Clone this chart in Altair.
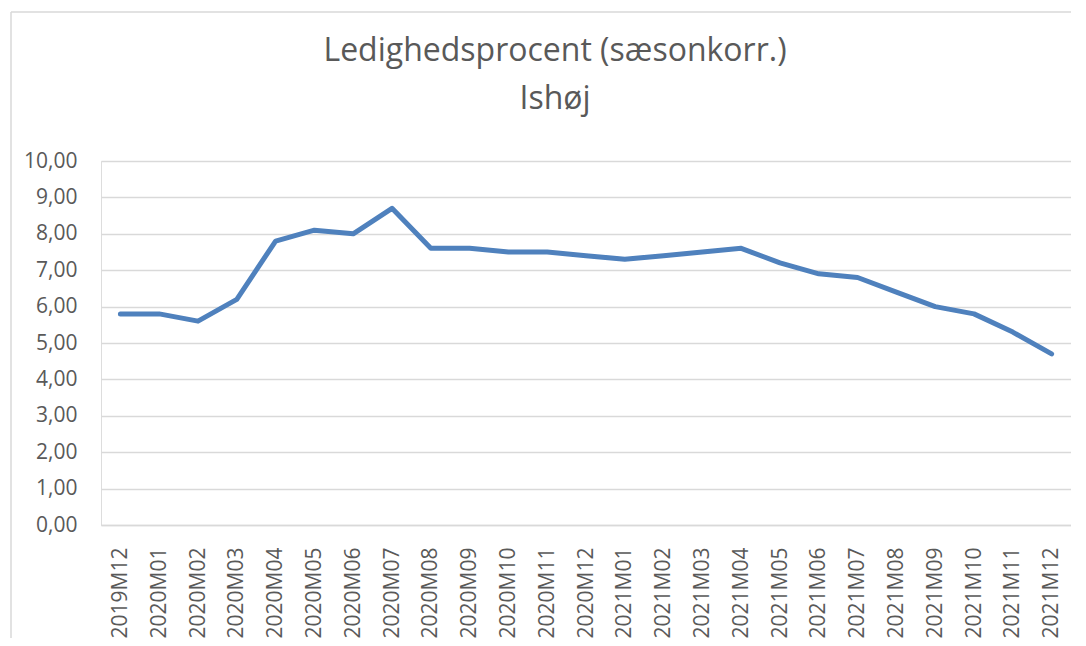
import altair as alt
import pandas as pd

months = ["2019M12", "2020M01", "2020M02", "2020M03", "2020M04", "2020M05",
          "2020M06", "2020M07", "2020M08", "2020M09", "2020M10", "2020M11",
          "2020M12", "2021M01", "2021M02", "2021M03", "2021M04", "2021M05",
          "2021M06", "2021M07", "2021M08", "2021M09", "2021M10", "2021M11",
          "2021M12"]
values = [5.8, 5.8, 5.6, 6.2, 7.8, 8.1, 8.0, 8.7, 7.6, 7.6, 7.5, 7.5,
          7.4, 7.3, 7.4, 7.5, 7.6, 7.2, 6.9, 6.8, 6.4, 6.0, 5.8, 5.3, 4.7]
y_ticks = [0, 1, 2, 3, 4, 5, 6, 7, 8, 9, 10]
title_lines = ["Ledighedsprocent (sæsonkorr.)", "Ishøj"]

df = pd.DataFrame({"month": months, "value": values})

FONT = "Open Sans"
TXT = "#595959"
GRID = "#d9d9d9"

line = alt.Chart(df).mark_line(
    color="#4f81bd", strokeWidth=5, strokeCap="round", strokeJoin="round"
).encode(
    x=alt.X("month:O", sort=months,
            scale=alt.Scale(type="point", padding=0.5),
            axis=alt.Axis(title=None, labelAngle=270, labelFontSize=21,
                          labelFont=FONT, labelColor=TXT, labelPadding=22,
                          ticks=False, domain=True, domainColor=GRID,
                          domainWidth=1.5, grid=False, labelOverlap=False)),
    y=alt.Y("value:Q", scale=alt.Scale(domain=[0, 10], nice=False),
            axis=alt.Axis(title=None, values=y_ticks, ticks=False, domain=False,
                          gridColor=GRID, gridWidth=1.5, labelFontSize=21,
                          labelFont=FONT, labelColor=TXT, labelPadding=24,
                          labelExpr="replace(format(datum.value, '.2f'), '.', ',')")),
)

frame_df = pd.DataFrame({"a": [0]})
left_border = alt.Chart(frame_df).mark_rule(color=GRID, strokeWidth=1.5).encode(
    x=alt.value(-90), y=alt.value(-149), y2=alt.value(480))
top_border = alt.Chart(frame_df).mark_rule(color=GRID, strokeWidth=1.5).encode(
    y=alt.value(-149), x=alt.value(-90), x2=alt.value(975))

chart = alt.layer(left_border, top_border, line).properties(
    width=970, height=364,
    padding={"left": 93, "top": 153, "right": 0, "bottom": 113},
    autosize=alt.AutoSizeParams(type="none"),
    title=alt.TitleParams(text=title_lines, fontSize=32, font=FONT,
                          fontWeight="normal", color=TXT, lineHeight=48,
                          anchor="middle", dx=-31, offset=0, dy=105),
).configure_view(stroke=None).configure(background="white")

chart.save("out.html", embed_options={"renderer": "svg", "actions": False})
